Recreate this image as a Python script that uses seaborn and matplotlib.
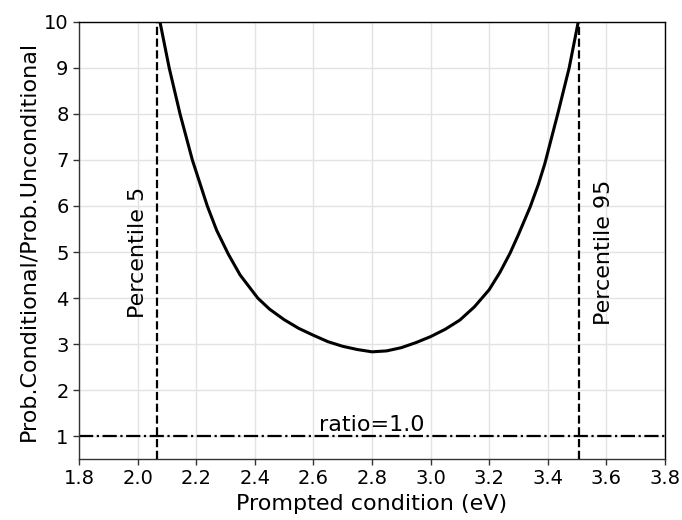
import matplotlib
matplotlib.use("Agg")
import matplotlib.pyplot as plt
import seaborn as sns
import pandas as pd

# Ratio of conditional to unconditional probability vs. prompted condition
energy_ev = [2.0765, 2.108, 2.145, 2.187, 2.238, 2.270, 2.310, 2.350, 2.410,
             2.450, 2.500, 2.550, 2.600, 2.650, 2.700, 2.750, 2.800, 2.850,
             2.900, 2.950, 3.000, 3.050, 3.100, 3.150, 3.200, 3.237, 3.271,
             3.300, 3.340, 3.368, 3.390, 3.434, 3.473, 3.504]
ratio = [10.0, 9.0, 8.0, 7.0, 6.0, 5.47, 4.95, 4.50, 4.0,
         3.76, 3.53, 3.34, 3.19, 3.05, 2.95, 2.88, 2.83, 2.85,
         2.92, 3.03, 3.16, 3.32, 3.52, 3.81, 4.18, 4.56, 4.97,
         5.38, 5.98, 6.47, 6.92, 8.0, 9.0, 10.0]

percentile_5 = 2.066
percentile_95 = 3.506
reference_ratio = 1.0

x_ticks = [1.8, 2.0, 2.2, 2.4, 2.6, 2.8, 3.0, 3.2, 3.4, 3.6, 3.8]
y_ticks = [1, 2, 3, 4, 5, 6, 7, 8, 9, 10]

df = pd.DataFrame({"energy": energy_ev, "ratio": ratio})

sns.set_style("ticks")
plt.rcParams["font.family"] = ["DejaVu Sans"]
plt.rcParams["text.color"] = "black"
plt.rcParams["axes.labelcolor"] = "black"
plt.rcParams["xtick.color"] = "black"
plt.rcParams["ytick.color"] = "black"
plt.rcParams["lines.solid_joinstyle"] = "round"

fig = plt.figure(figsize=(6.82, 5.2), dpi=100)
ax = fig.add_axes([0.1158, 0.1173, 0.8592, 0.8404])

sns.lineplot(data=df, x="energy", y="ratio", ax=ax, color="black",
             linewidth=2.2, sort=False, estimator=None)

ax.axvline(percentile_5, color="black", linestyle="--", linewidth=1.6)
ax.axvline(percentile_95, color="black", linestyle="--", linewidth=1.6)
ax.axhline(reference_ratio, color="black", linestyle="-.", linewidth=1.6)

ax.text(percentile_5 - 0.065, 5, "Percentile 5", rotation=90,
        ha="center", va="center", fontsize=16)
ax.text(percentile_95 + 0.085, 5, "Percentile 95", rotation=90,
        ha="center", va="center", fontsize=16)
ax.text(2.8, reference_ratio + 0.02, "ratio=1.0", ha="center", va="bottom",
        fontsize=16)

ax.set_xlim(1.8, 3.8)
ax.set_ylim(0.5, 10)
ax.set_xticks(x_ticks)
ax.set_xticklabels([f"{t:.1f}" for t in x_ticks])
ax.set_yticks(y_ticks)
ax.tick_params(axis="both", labelsize=14, direction="out", length=4,
               width=1, color="#333333", labelcolor="black")
ax.grid(True, color="#e3e3e3", linewidth=1)
ax.set_axisbelow(True)
for side in ["top", "right", "left", "bottom"]:
    ax.spines[side].set_visible(True)
    ax.spines[side].set_color("black")
    ax.spines[side].set_linewidth(1.0)
for side in ["left", "bottom"]:
    ax.spines[side].set_color("#333333")

ax.set_xlabel("Prompted condition (eV)", fontsize=16, color="black")
ax.set_ylabel("Prob.Conditional/Prob.Unconditional", fontsize=16,
              color="black")

fig.savefig("out.png", dpi=100)
